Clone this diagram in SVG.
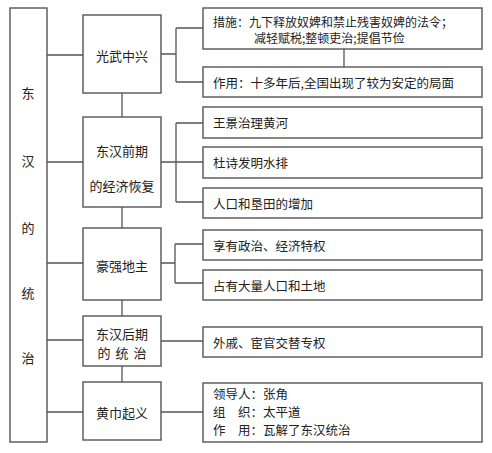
<svg xmlns="http://www.w3.org/2000/svg" width="492" height="453" viewBox="0 0 492 453">
<style>
.b{fill:#fff;stroke:#555;stroke-width:1.4}
.c{fill:none;stroke:#555;stroke-width:1.3}
text{font-family:"Noto Sans CJK SC","Noto Sans",sans-serif;font-size:12.5px;fill:#222;dominant-baseline:central}
.m{text-anchor:middle;font-size:13px}
.s{font-size:12px}
</style>
<rect width="492" height="453" fill="#fff"/>
<g id="connectors">
<path class="c" d="M47 55H83M47 162H83M47 263H83M47 340H83M47 412H83"/>
<path class="c" d="M122 93V117M122 207V228M122 300V316M122 366V382"/>
<path class="c" d="M161 54H176M176 28V82M176 28H203M176 82H203"/>
<path class="c" d="M344 49V67"/>
<path class="c" d="M161 162H203M176 123V202M176 123H203M176 202H203"/>
<path class="c" d="M161 263H175M175 244V283M175 244H203M175 283H203"/>
<path class="c" d="M161 341H203M161 412H203"/>
</g>
<g id="root">
<rect class="b" x="10" y="8" width="37" height="434"/>
<text class="m" x="28" y="92">东</text>
<text class="m" x="28" y="160">汉</text>
<text class="m" x="28" y="227">的</text>
<text class="m" x="28" y="292">统</text>
<text class="m" x="28" y="357">治</text>
</g>
<g id="n1">
<rect class="b" x="83" y="15" width="78" height="78"/>
<text class="m" x="122" y="55">光武中兴</text>
</g>
<g id="n2">
<rect class="b" x="83" y="117" width="78" height="90"/>
<text class="m" x="122" y="150">东汉前期</text>
<text class="m" x="122" y="185">的经济恢复</text>
</g>
<g id="n3">
<rect class="b" x="83" y="228" width="78" height="72"/>
<text class="m" x="122" y="265">豪强地主</text>
</g>
<g id="n4">
<rect class="b" x="83" y="316" width="78" height="50"/>
<text class="m" x="122" y="333">东汉后期</text>
<text class="m" x="122" y="352" letter-spacing="5" dx="2.5">的统治</text>
</g>
<g id="n5">
<rect class="b" x="83" y="382" width="78" height="58"/>
<text class="m" x="122" y="412">黄巾起义</text>
</g>
<g id="r1">
<rect class="b" x="203" y="8" width="279" height="41"/>
<text class="s" x="213" y="21">措施：九下释放奴婢和禁止残害奴婢的法令；</text>
<text class="s" x="254" y="37">减轻赋税;整顿吏治;提倡节俭</text>
</g>
<g id="r2">
<rect class="b" x="203" y="67" width="279" height="30"/>
<text x="213" y="82">作用：十多年后,全国出现了较为安定的局面</text>
</g>
<g id="r3">
<rect class="b" x="203" y="107" width="279" height="31"/>
<text x="213" y="122">王景治理黄河</text>
</g>
<g id="r4">
<rect class="b" x="203" y="147" width="279" height="31"/>
<text x="213" y="162">杜诗发明水排</text>
</g>
<g id="r5">
<rect class="b" x="203" y="188" width="279" height="30"/>
<text x="213" y="203">人口和垦田的增加</text>
</g>
<g id="r6">
<rect class="b" x="203" y="230" width="279" height="30"/>
<text x="213" y="245">享有政治、经济特权</text>
</g>
<g id="r7">
<rect class="b" x="203" y="270" width="279" height="30"/>
<text x="213" y="285">占有大量人口和土地</text>
</g>
<g id="r8">
<rect class="b" x="203" y="327" width="279" height="30"/>
<text x="213" y="342">外戚、宦官交替专权</text>
</g>
<g id="r9">
<rect class="b" x="203" y="383" width="279" height="59"/>
<text x="213" y="393">领导人：张角</text>
<text x="213" y="411">组　织：太平道</text>
<text x="213" y="429">作　用：瓦解了东汉统治</text>
</g>
</svg>
